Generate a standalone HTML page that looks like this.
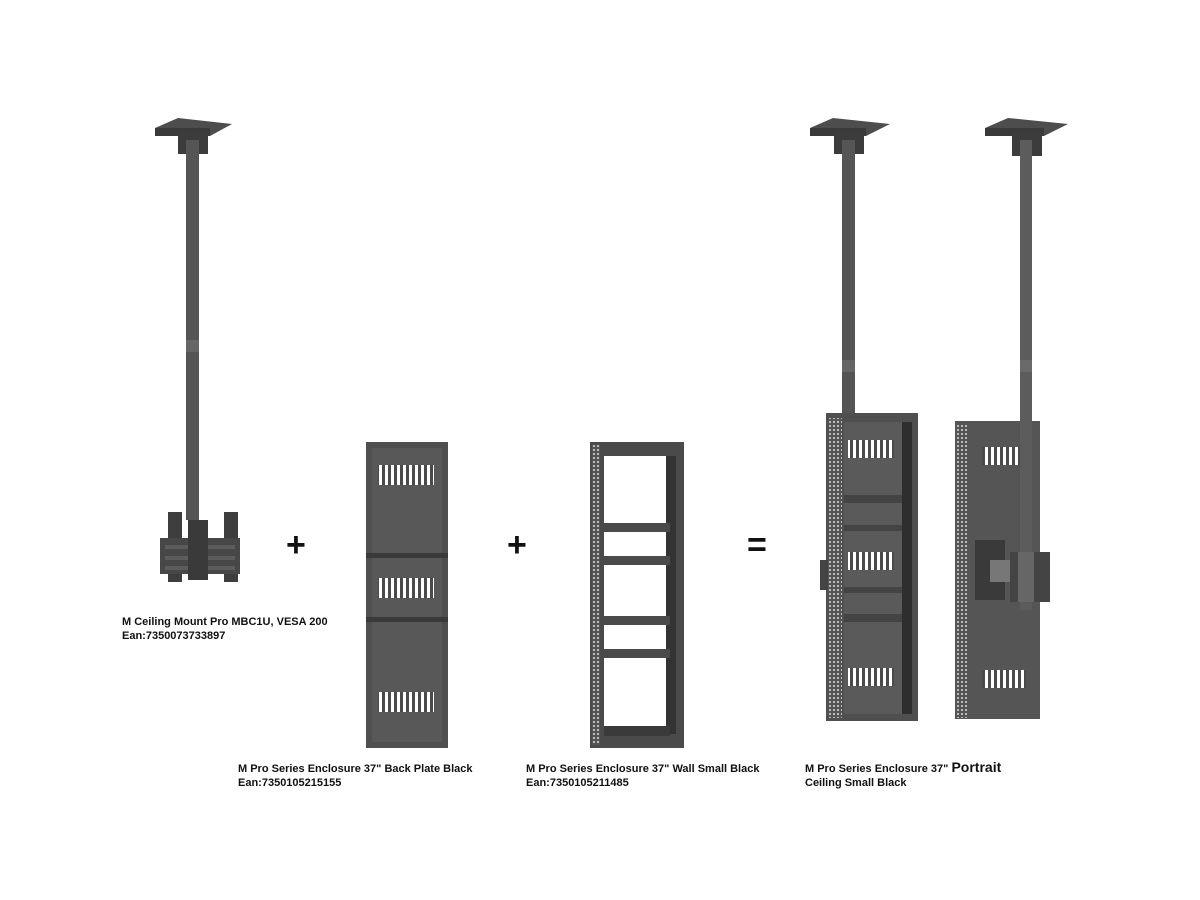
<!DOCTYPE html>
<html><head><style>
body{margin:0;background:#fff;width:1200px;height:900px;overflow:hidden;position:relative;font-family:"Liberation Sans",Arial,sans-serif}
.t{position:absolute;font-size:11px;font-weight:bold;color:#111;line-height:14px;white-space:nowrap}
.s{position:absolute;font-weight:bold;color:#111;font-size:34px;line-height:34px}
</style></head><body>
<svg width="1200" height="900" style="position:absolute;left:0;top:0">
<defs>
<pattern id="perf" width="4" height="4" patternUnits="userSpaceOnUse"><rect width="4" height="4" fill="#555"/><rect x="1" y="1" width="2" height="2" fill="#bbb"/></pattern>
<pattern id="vent" width="6" height="20" patternUnits="userSpaceOnUse"><rect width="6" height="20" fill="#4a4a4a"/><rect x="1" width="3" height="20" fill="#fff"/></pattern>
</defs>
<!-- Mount 1 -->
<polygon points="155,128 178,118 232,124 210,136" fill="#4d4d4d"/>
<rect x="155" y="128" width="55" height="8" fill="#3a3a3a"/>
<rect x="178" y="132" width="30" height="22" fill="#3c3c3c"/>
<rect x="186" y="140" width="13" height="380" fill="#555"/>
<rect x="186" y="340" width="13" height="12" fill="#666"/>
<rect x="168" y="512" width="14" height="70" fill="#3e3e3e"/>
<rect x="224" y="512" width="14" height="70" fill="#3e3e3e"/>
<rect x="160" y="538" width="80" height="36" fill="#474747"/>
<rect x="165" y="545" width="70" height="4" fill="#5c5c5c"/>
<rect x="165" y="556" width="70" height="4" fill="#5c5c5c"/>
<rect x="165" y="566" width="70" height="4" fill="#5c5c5c"/>
<rect x="188" y="520" width="20" height="60" fill="#3a3a3a"/>
<!-- Back plate -->
<rect x="366" y="442" width="82" height="306" fill="#4f4f4f"/>
<rect x="372" y="448" width="70" height="294" fill="#585858"/>
<rect x="378" y="465" width="56" height="20" fill="url(#vent)"/>
<rect x="378" y="578" width="56" height="20" fill="url(#vent)"/>
<rect x="378" y="692" width="56" height="20" fill="url(#vent)"/>
<rect x="366" y="553" width="82" height="5" fill="#3a3a3a"/>
<rect x="366" y="617" width="82" height="5" fill="#3a3a3a"/>
<!-- Wall frame -->
<rect x="590" y="442" width="94" height="306" fill="#4a4a4a"/>
<rect x="592" y="445" width="8" height="300" fill="url(#perf)"/>
<rect x="604" y="456" width="66" height="278" fill="#fff"/>
<rect x="666" y="456" width="10" height="278" fill="#333"/>
<rect x="604" y="523" width="66" height="9" fill="#4a4a4a"/>
<rect x="604" y="556" width="66" height="9" fill="#4a4a4a"/>
<rect x="604" y="616" width="66" height="9" fill="#4a4a4a"/>
<rect x="604" y="649" width="66" height="9" fill="#4a4a4a"/>
<rect x="604" y="726" width="66" height="10" fill="#3a3a3a"/>
<!-- Result 1 -->
<polygon points="810,128 833,118 890,124 866,136" fill="#4d4d4d"/>
<rect x="810" y="128" width="56" height="8" fill="#3a3a3a"/>
<rect x="834" y="132" width="30" height="22" fill="#3c3c3c"/>
<rect x="842" y="140" width="13" height="275" fill="#555"/>
<rect x="842" y="360" width="13" height="12" fill="#666"/>
<rect x="826" y="413" width="92" height="308" fill="#4f4f4f"/>
<rect x="828" y="418" width="14" height="300" fill="url(#perf)"/>
<rect x="844" y="422" width="68" height="292" fill="#5a5a5a"/>
<rect x="902" y="422" width="10" height="292" fill="#2e2e2e"/>
<rect x="848" y="440" width="46" height="18" fill="url(#vent)"/>
<rect x="848" y="552" width="46" height="18" fill="url(#vent)"/>
<rect x="848" y="668" width="46" height="18" fill="url(#vent)"/>
<rect x="844" y="495" width="58" height="8" fill="#444"/>
<rect x="844" y="525" width="58" height="6" fill="#444"/>
<rect x="844" y="587" width="58" height="6" fill="#444"/>
<rect x="844" y="614" width="58" height="8" fill="#444"/>
<rect x="820" y="560" width="8" height="30" fill="#444"/>
<!-- Result 2 -->
<polygon points="985,128 1008,118 1068,124 1044,136" fill="#4d4d4d"/>
<rect x="985" y="128" width="59" height="8" fill="#3a3a3a"/>
<rect x="1012" y="132" width="30" height="24" fill="#3c3c3c"/>
<rect x="955" y="421" width="85" height="298" fill="#555"/>
<rect x="956" y="424" width="12" height="294" fill="url(#perf)"/>
<rect x="982" y="447" width="40" height="18" fill="url(#vent)"/>
<rect x="982" y="670" width="44" height="18" fill="url(#vent)"/>
<rect x="1020" y="140" width="12" height="470" fill="#5c5c5c"/>
<rect x="1020" y="360" width="12" height="12" fill="#6a6a6a"/>
<rect x="975" y="540" width="30" height="60" fill="#3a3a3a"/>
<rect x="990" y="560" width="22" height="22" fill="#777"/>
<rect x="1010" y="552" width="40" height="50" fill="#444"/>
<rect x="1018" y="552" width="16" height="50" fill="#666"/>
</svg>
<div class="s" style="left:286px;top:528px">+</div>
<div class="s" style="left:507px;top:528px">+</div>
<div class="s" style="left:747px;top:528px">=</div>
<div class="t" style="left:122px;top:615px">M Ceiling Mount Pro MBC1U, VESA 200<br>Ean:7350073733897</div>
<div class="t" style="left:238px;top:762px">M Pro Series Enclosure 37" Back Plate Black<br>Ean:7350105215155</div>
<div class="t" style="left:526px;top:762px">M Pro Series Enclosure 37" Wall Small Black<br>Ean:7350105211485</div>
<div class="t" style="left:805px;top:760px">M Pro Series Enclosure 37" <span style="font-size:14px">Portrait</span><br>Ceiling Small Black</div>
</body></html>
